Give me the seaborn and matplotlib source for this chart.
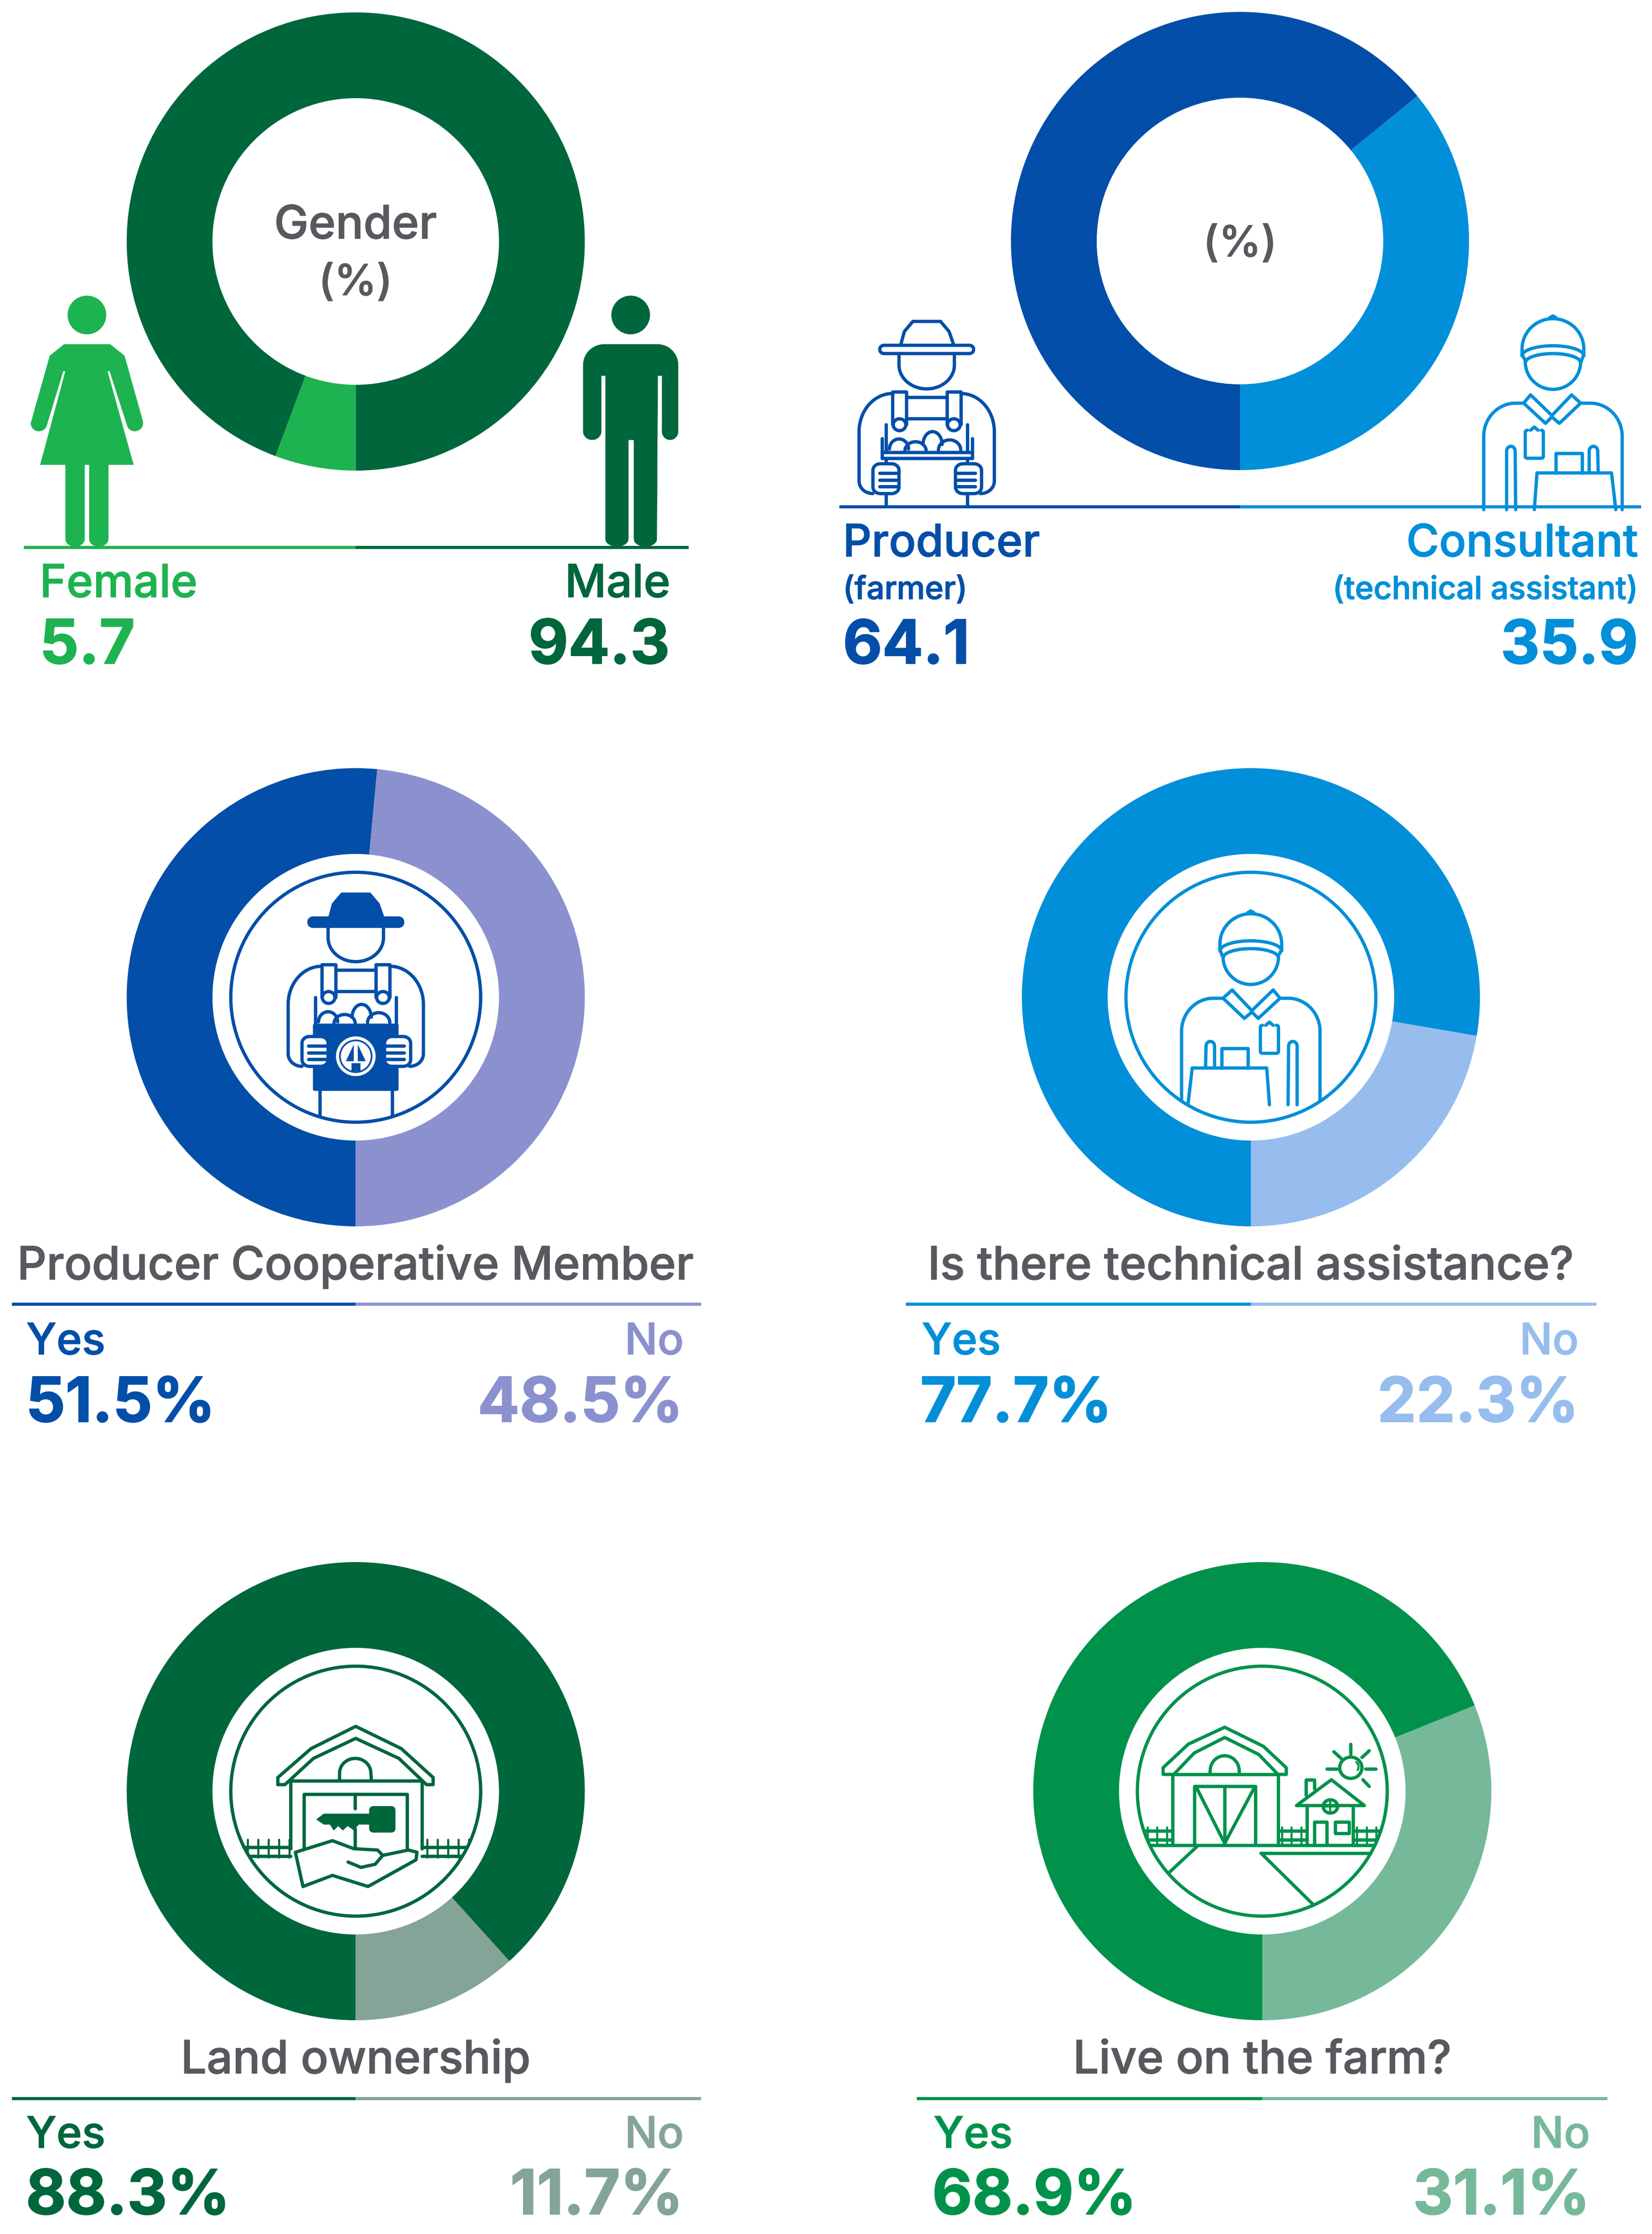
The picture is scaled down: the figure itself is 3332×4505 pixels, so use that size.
import numpy as np
import matplotlib
matplotlib.use('Agg')
import matplotlib.pyplot as plt
from matplotlib.patches import Polygon, Circle
import matplotlib.patheffects as pe
import seaborn as sns

# chart values
titles = ['Gender\n(%)', '(%)', 'Producer Cooperative Member', 'Is there technical assistance?', 'Land ownership', 'Live on the farm?']
left_names = ['Female', 'Producer', 'Yes', 'Yes', 'Yes', 'Yes']
right_names = ['Male', 'Consultant', 'No', 'No', 'No', 'No']
left_notes = ['', '(farmer)', '', '', '', '']
right_notes = ['', '(technical assistant)', '', '', '', '']
left_values = [5.7, 64.1, 51.5, 77.7, 88.3, 68.9]
right_values = [94.3, 35.9, 48.5, 22.3, 11.7, 31.1]
value_suffix = ['', '', '%', '%', '%', '%']

palette = sns.color_palette(['#1DB350', '#00663C', '#034EA8', '#028FD9', '#034EA8', '#8B91CF',
                             '#028FD9', '#97BDEE', '#00663C', '#84A497', '#00924B', '#76B99A'])
GREY = '#58595F'

# layout in picture pixels
W, H = 3332, 4505
centers = [(717.5, 487), (2501, 486), (717.5, 2011), (2523, 2011), (717.5, 3612), (2546, 3612)]
OUTER, INNER, RING = 462, 289, 252
rules = [(1104, 48, 1389), (1022, 1693, 3310), (2630, 24, 1414), (2630, 1827, 3220), (4232, 24, 1414), (4232, 1849, 3242)]
name_base = [1204, 1122, 2731, 2731, 4331, 4331]
value_base = [1338, 1338, 2867, 2867, 4465, 4465]
left_x = [(80, 80), (1700, 1700), (53, 52), (1859, 1856), (53, 52), (1883, 1880)]
right_x = [(1352, 1351), (3304, 3304), (1379, 1378), (3184, 3185), (1379, 1378), (3207, 3207)]
title_base = [None, None, 2580, 2580, 4181, 4181]
name_pts = [66, 65, 63, 63, 63, 63]
value_pts = [89, 88, 90, 90, 90, 90]

sns.set_theme(style='white')
plt.rcParams['font.family'] = ['Inter', 'DejaVu Sans']
fig = plt.figure(figsize=(W / 100, H / 100), dpi=100, facecolor='white')

# donuts, each in its own axes
for i, (cx, cy) in enumerate(centers):
    donut = fig.add_axes([(cx - OUTER) / W, 1 - (cy + OUTER) / H, 2 * OUTER / W, 2 * OUTER / H])
    donut.pie([left_values[i], right_values[i]], colors=[palette[2 * i], palette[2 * i + 1]], startangle=270,
              counterclock=False, radius=1, wedgeprops=dict(width=1 - INNER / OUTER, linewidth=0))
    donut.set_xlim(-1, 1)
    donut.set_ylim(-1, 1)

ax = fig.add_axes([0, 0, 1, 1], zorder=5)
ax.set_xlim(0, W)
ax.set_ylim(H, 0)
ax.axis('off')


def label(x, y, s, pts, colour, ha='left', weight='medium', thick=1.0):
    t = ax.text(x, y, s, fontsize=pts, color=colour, ha=ha, va='baseline', fontweight=weight)
    t.set_path_effects([pe.withStroke(linewidth=thick, foreground=colour)])
    return t


for i in range(6):
    cx = centers[i][0]
    y, x0, x1 = rules[i]
    ax.plot([x0, cx], [y, y], color=palette[2 * i], lw=4.6, solid_capstyle='butt')
    ax.plot([cx, x1], [y, y], color=palette[2 * i + 1], lw=4.6, solid_capstyle='butt')
    label(left_x[i][0], name_base[i], left_names[i], name_pts[i], palette[2 * i])
    label(right_x[i][0], name_base[i], right_names[i], name_pts[i], palette[2 * i + 1], ha='right')
    label(left_x[i][1], value_base[i], f'{left_values[i]}{value_suffix[i]}', value_pts[i], palette[2 * i], weight='bold', thick=1.5)
    label(right_x[i][1], value_base[i], f'{right_values[i]}{value_suffix[i]}', value_pts[i], palette[2 * i + 1], ha='right', weight='bold', thick=1.5)
    if left_notes[i]:
        label(left_x[i][0], 1208, left_notes[i], 46, palette[2 * i])
        label(right_x[i][0], 1208, right_notes[i], 46, palette[2 * i + 1], ha='right')
    if title_base[i]:
        label(cx, title_base[i], titles[i], 66.5, GREY, ha='center')

label(717, 481, titles[0].split('\n')[0], 67, GREY, ha='center')
label(717, 595, titles[0].split('\n')[1], 62, GREY, ha='center')
label(2501, 517, titles[1], 62, GREY, ha='center')


# icon helpers
def crop(ox, oy, w, h, dx=0, dy=0):
    def to_px(pts):
        pts = np.asarray(pts, dtype=float)
        return np.column_stack([ox + pts[:, 0] * w / 1566 + dx, oy + pts[:, 1] * h / 1566 + dy])
    return to_px


def arc(cx, cy, rx, ry, a0, a1, n=40):
    t = np.radians(np.linspace(a0, a1, n))
    return np.column_stack([cx + rx * np.cos(t), cy + ry * np.sin(t)]).tolist()


def rrect(x0, y0, x1, y1, r):
    return (arc(x1 - r, y0 + r, r, r, -90, 0, 8) + arc(x1 - r, y1 - r, r, r, 0, 90, 8)
            + arc(x0 + r, y1 - r, r, r, 90, 180, 8) + arc(x0 + r, y0 + r, r, r, 180, 270, 8))


def stroke(to_px, pts, colour, lw=4.8, closed=False, fill=None, clip=None, z=6):
    xy = to_px(pts)
    if closed or fill is not None:
        art = Polygon(xy, closed=True, facecolor=fill if fill is not None else 'none', edgecolor=colour,
                      lw=lw, joinstyle='round', zorder=z)
        ax.add_patch(art)
    else:
        art, = ax.plot(xy[:, 0], xy[:, 1], color=colour, lw=lw, solid_capstyle='round', solid_joinstyle='round', zorder=z)
    if clip is not None:
        art.set_clip_path(clip)
    return art


def ring(cx, cy, colour):
    c = Circle((cx, cy), RING, facecolor='none', edgecolor=colour, lw=4.8, zorder=7)
    ax.add_patch(c)
    return Circle((cx, cy), RING, transform=ax.transData)


def draw_woman(colour):
    p = crop(0, 0, 1500, 1450)
    ax.add_patch(Circle(p([(183, 686)])[0], 39, color=colour, lw=0))
    body = ([(135, 750), (232, 750), (262, 775), (300, 915)] + arc(284, 922, 17, 17, 0, 170, 10)
            + [(231, 808), (226, 808), (281, 1012), (228, 1012), (228, 1175)] + arc(208, 1175, 20, 15, 0, 180, 10)
            + [(188, 1012), (178, 1012), (178, 1175)] + arc(158, 1175, 20, 15, 0, 180, 10)
            + [(138, 1012), (85, 1012), (138, 808), (133, 808)] + arc(82, 922, 17, 17, 10, 180, 10) + [(105, 775)])
    stroke(p, body, colour, lw=0.5, fill=colour)


def draw_man(colour):
    p = crop(0, 0, 1500, 1450)
    ax.add_patch(Circle(p([(1328, 686)])[0], 39, color=colour, lw=0))
    body = ([(1272, 750), (1385, 750)] + arc(1385, 795, 43, 45, -90, 0, 12) + [(1428, 940)]
            + arc(1411, 940, 17, 18, 0, 180, 10) + [(1394, 818), (1385, 818), (1383, 1175)]
            + arc(1359, 1175, 24, 15, 0, 180, 10) + [(1335, 958), (1323, 958), (1323, 1175)]
            + arc(1299, 1175, 24, 15, 0, 180, 10) + [(1275, 818), (1266, 818), (1266, 940)]
            + arc(1247, 940, 19, 18, 0, 180, 10) + [(1228, 795)] + arc(1272, 795, 44, 45, 180, 270, 12))
    stroke(p, body, colour, lw=0.5, fill=colour)


def draw_farmer(p, colour, solid=False, clip=None):
    crown = [(155, 752), (162, 722), (178, 700), (230, 700), (246, 722), (255, 752)]
    stroke(p, crown, colour, closed=solid, fill=colour if solid else None)
    stroke(p, rrect(116, 752, 292, 770, 8), colour, fill=colour if solid else 'white')
    stroke(p, [(256, 770)] + arc(204, 795, 52, 52, 0, 180) + [(152, 770)], colour)
    for sgn in (0, 1):
        f = (lambda q: [(408 - a, b) for a, b in q]) if sgn else (lambda q: q)
        stroke(p, f(arc(140, 940, 63, 83, -90, -180) + [(77, 1048)] + arc(103, 1048, 26, 27, 180, 90, 10)), colour)
        stroke(p, f([(140, 925), (140, 853), (166, 853), (166, 925)]), colour)
        stroke(p, f(arc(153, 925, 12, 13, 0, 360, 20)), colour)
        stroke(p, f([(128, 925), (128, 985)]), colour)
    stroke(p, [(166, 865), (242, 865)], colour)
    stroke(p, [(166, 912), (242, 912)], colour)
    for fx, fy, rx, ry in [(152, 978, 18, 22), (183, 982, 20, 20), (215, 968, 18, 28), (247, 980, 21, 22)]:
        stroke(p, arc(fx, fy, rx, ry, 180, 360, 16), colour)
    if solid:
        stroke(p, [(126, 985), (281, 985), (281, 1124), (126, 1124)], colour, fill=colour)
        stroke(p, [(136, 1124), (136, 1182)], colour, clip=clip)
        stroke(p, [(272, 1124), (272, 1182)], colour, clip=clip)
        logo = p([(204, 1053)])[0]
        ax.add_patch(Circle(logo, 40, facecolor='white', edgecolor='none', zorder=7))
        ax.add_patch(Circle(logo, 32, facecolor='none', edgecolor=colour, lw=2.5, zorder=7))
        for tri in ([(-4, -24), (-20, 10), (-4, 10)], [(4, -24), (20, 10), (4, 10)], [(-9, 14), (9, 14), (9, 30), (-9, 30)]):
            ax.add_patch(Polygon(np.array(tri) + logo, facecolor=colour, edgecolor='none', zorder=8))
    else:
        stroke(p, [(120, 985), (290, 985)], colour)
        stroke(p, [(120, 998), (290, 998)], colour)
        stroke(p, [(120, 955), (120, 998)], colour)
        stroke(p, [(290, 955), (290, 998)], colour)
        stroke(p, [(128, 998), (128, 1010)], colour)
        stroke(p, [(280, 998), (280, 1010)], colour)
        stroke(p, [(128, 1075), (128, 1100)], colour)
        stroke(p, [(280, 1075), (280, 1100)], colour)
    for hx in (103, 258):
        stroke(p, rrect(hx, 1010, hx + 49, 1075, 14), colour, fill='white', z=8)
        inner = (hx + 12, hx + 46) if hx < 200 else (hx + 3, hx + 37)
        for fy in (1030, 1045, 1060):
            stroke(p, [(inner[0], fy), (inner[1], fy)], colour, z=8)


def draw_consultant(p, colour, clip=None):
    stroke(p, [(1322, 772)] + arc(1380, 760, 58, 66, 180, 360) + [(1438, 772)], colour)
    stroke(p, [(1374, 692), (1380, 688), (1386, 692)], colour)
    stroke(p, [(1322, 772)] + arc(1380, 775, 58, 22, 180, 360, 20) + [(1438, 772)], colour)
    stroke(p, [(1322, 772), (1328, 785)] + arc(1380, 790, 52, 20, 180, 360, 20) + [(1438, 772)], colour)
    stroke(p, arc(1380, 788, 52, 60, 0, 180), colour)
    stroke(p, [(1325, 878), (1338, 860), (1378, 905), (1415, 860), (1432, 878), (1392, 922), (1378, 908), (1366, 922)], colour, closed=True, fill='white')
    stroke(p, [(1325, 878)] + arc(1310, 950, 60, 72, -90, -180, 20)[1:] + [(1250, 1110)], colour, clip=clip)
    stroke(p, [(1432, 878)] + arc(1450, 950, 60, 72, -90, 0, 20)[1:] + [(1510, 1110)], colour, clip=clip)
    stroke(p, rrect(1328, 937, 1362, 998, 4), colour)
    stroke(p, [(1338, 937), (1345, 930), (1352, 937)], colour)
    stroke(p, [(1293, 1110)] + arc(1301, 982, 8, 10, 180, 360, 10) + [(1310, 1110)], colour, clip=clip)
    stroke(p, [(1448, 1030)] + arc(1456, 982, 8, 10, 180, 360, 10) + [(1465, 1030)], colour)
    stroke(p, [(1345, 1110), (1350, 1030), (1490, 1030), (1498, 1110)], colour, clip=clip)
    stroke(p, [(1385, 1030), (1385, 987), (1435, 987), (1435, 1030)], colour)


def draw_land(colour):
    p = crop(0, 3100, 1500, 1405)
    clip = ring(centers[4][0], centers[4][1], colour)
    stroke(p, [(585, 556), (585, 540), (655, 475), (749, 425), (845, 475), (912, 540), (912, 556), (898, 556),
               (840, 497), (749, 452), (660, 497), (600, 556)], colour, closed=True)
    stroke(p, [(612, 547), (888, 547)], colour)
    stroke(p, [(612, 547), (612, 700)], colour)
    stroke(p, [(888, 547), (888, 700)], colour)
    stroke(p, [(640, 700), (640, 577), (857, 577), (857, 700)], colour)
    stroke(p, [(715, 545)] + arc(748, 530, 33, 33, 180, 360, 20) + [(782, 545)], colour)
    stroke(p, [(748, 577), (748, 610)], colour)
    stroke(p, [(748, 655), (748, 700)], colour)
    stroke(p, rrect(778, 605, 832, 663, 8), colour, fill=colour, lw=1)
    stroke(p, [(780, 622), (682, 622), (667, 634), (682, 645), (695, 645), (703, 658), (712, 648), (722, 658), (732, 648), (745, 658), (755, 645), (780, 645)],
           colour, fill=colour, lw=1)
    for y in (697, 717):
        stroke(p, [(512, y), (612, y)], colour, clip=clip)
        stroke(p, [(888, y), (985, y)], colour, clip=clip)
    for x in list(range(522, 612, 22)) + list(range(900, 990, 22)):
        stroke(p, [(x, 680), (x, 720)], colour, lw=3, clip=clip)
    hand = [(622, 708), (700, 682), (745, 700), (795, 703), (806, 715), (860, 703), (878, 708), (876, 725), (775, 785), (700, 760), (638, 785)]
    stroke(p, hand, colour, fill='white', z=8)
    stroke(p, [(806, 715), (790, 735), (760, 742), (733, 730)], colour, z=8)


def draw_farm(colour):
    p = crop(1800, 3100, 1532, 1405)
    clip = ring(centers[5][0], centers[5][1], colour)
    stroke(p, [(558, 533), (558, 518), (610, 465), (685, 427), (765, 470), (812, 518), (812, 533), (795, 533), (755, 488),
               (685, 450), (622, 485), (580, 533)], colour, closed=True)
    stroke(p, [(578, 533), (795, 533)], colour)
    stroke(p, [(578, 533), (578, 692)], colour)
    stroke(p, [(795, 533), (795, 692)], colour)
    stroke(p, [(655, 530)] + arc(685, 525, 30, 34, 180, 360, 20) + [(715, 530)], colour)
    stroke(p, [(623, 690), (623, 560), (748, 560), (748, 690)], colour)
    stroke(p, [(685, 560), (685, 690)], colour)
    stroke(p, [(628, 565), (685, 688), (745, 565)], colour)
    stroke(p, [(518, 692), (1005, 692)], colour, clip=clip)
    stroke(p, [(628, 695), (572, 752)], colour, clip=clip)
    stroke(p, [(760, 710), (867, 825)], colour, clip=clip)
    stroke(p, [(760, 710), (985, 710)], colour, clip=clip)
    for a, b in ((518, 578), (795, 855), (950, 1005)):
        for y in (660, 680):
            stroke(p, [(a, y), (b, y)], colour, clip=clip)
        for x in range(a + 8, b, 20):
            stroke(p, [(x, 652), (x, 692)], colour, lw=3, clip=clip)
    stroke(p, [(852, 580), (852, 545), (870, 545), (870, 565)], colour)
    stroke(p, [(833, 603), (905, 545), (973, 603)], colour, closed=True, fill='white')
    stroke(p, [(855, 603), (855, 692)], colour)
    stroke(p, [(950, 603), (950, 692)], colour)
    stroke(p, [(870, 692), (870, 640), (895, 640), (895, 692)], colour)
    stroke(p, [(913, 640), (941, 640), (941, 665), (913, 665)], colour, closed=True)
    stroke(p, arc(903, 605, 15, 15, 0, 360, 24), colour)
    stroke(p, [(888, 605), (918, 605)], colour, lw=3)
    stroke(p, [(903, 590), (903, 620)], colour, lw=3)
    stroke(p, arc(945, 518, 23, 24, 0, 360, 30), colour)
    stroke(p, arc(947, 516, 14, 14, -50, 30, 10), colour, lw=3)
    for ray in ([(945, 465), (945, 487)], [(895, 520), (917, 520)], [(975, 520), (997, 520)], [(910, 482), (925, 497)],
                [(983, 480), (968, 495)], [(970, 545), (983, 560)]):
        stroke(p, ray, colour)


top_crop = crop(1650, 0, 1682, 1450)


def mirrored_consultant(pts):
    # same figure as the top one, flipped and moved into the circle
    q = top_crop(pts)
    return np.column_stack([2 * 2523 - (q[:, 0] - 609), q[:, 1] + 1200])


draw_woman(palette[0])
draw_man(palette[1])
draw_farmer(top_crop, palette[2])
draw_consultant(top_crop, palette[3])

clip3 = ring(centers[2][0], centers[2][1], palette[4])
draw_farmer(crop(1650, 0, 1682, 1450, dx=-1151.5, dy=1155), palette[4], solid=True, clip=clip3)
clip4 = ring(centers[3][0], centers[3][1], palette[6])
draw_consultant(mirrored_consultant, palette[6], clip=clip4)
draw_land(palette[8])
draw_farm(palette[10])

fig.savefig('out.png', dpi=100, facecolor='white')
